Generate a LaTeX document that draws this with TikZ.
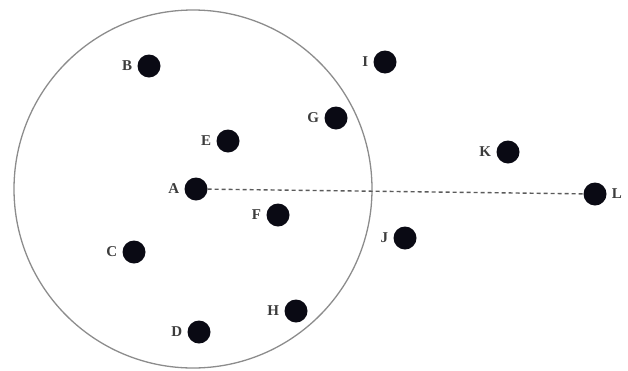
\documentclass[tikz,border=0pt]{standalone}
\usepackage{fontspec}
\setmainfont{Liberation Serif}
\usepackage{xcolor}
\usepackage{tikz}
\usetikzlibrary{positioning}
\definecolor{dotblack}{RGB}{10,10,20}
\definecolor{ringgray}{RGB}{140,140,140}
\definecolor{labelgray}{RGB}{60,60,60}
\definecolor{dashgray}{RGB}{90,90,90}
\tikzset{
  pt/.style={circle, fill=dotblack, inner sep=0pt, minimum size=23pt},
  lbl/.style={text=labelgray, font=\fontsize{15}{17}\selectfont\bfseries, inner sep=1pt, label distance=4pt},
  ring/.style={draw=ringgray, line width=1.3pt},
  reach/.style={draw=dashgray, line width=1.4pt, dash pattern=on 4pt off 3pt}
}
\begin{document}
\begin{tikzpicture}[x=1pt,y=-1pt]
\useasboundingbox (0,0) rectangle (628,370);
% neighbourhood of A
\draw[ring] (193,189) circle (179);

% points
\node[pt, label={[lbl]left:A}] (A) at (196,189) {};
\node[pt, label={[lbl]left:B}] (B) at (149,66) {};
\node[pt, label={[lbl]left:C}] (C) at (134,252) {};
\node[pt, label={[lbl]left:D}] (D) at (199,332) {};
\node[pt, label={[lbl]left:E}] (E) at (228,141) {};
\node[pt, label={[lbl]left:F}] (F) at (278,215) {};
\node[pt, label={[lbl]left:G}] (G) at (336,118) {};
\node[pt, label={[lbl]left:H}] (H) at (296,311) {};
\node[pt, label={[lbl]left:I}] (I) at (385,62) {};
\node[pt, label={[lbl]left:J}] (J) at (405,238) {};
\node[pt, label={[lbl]left:K}] (K) at (508,152) {};
\node[pt, label={[lbl]right:L}] (L) at (595,194) {};

% distance A--L
\draw[reach] (A) -- (L);
\end{tikzpicture}
\end{document}
